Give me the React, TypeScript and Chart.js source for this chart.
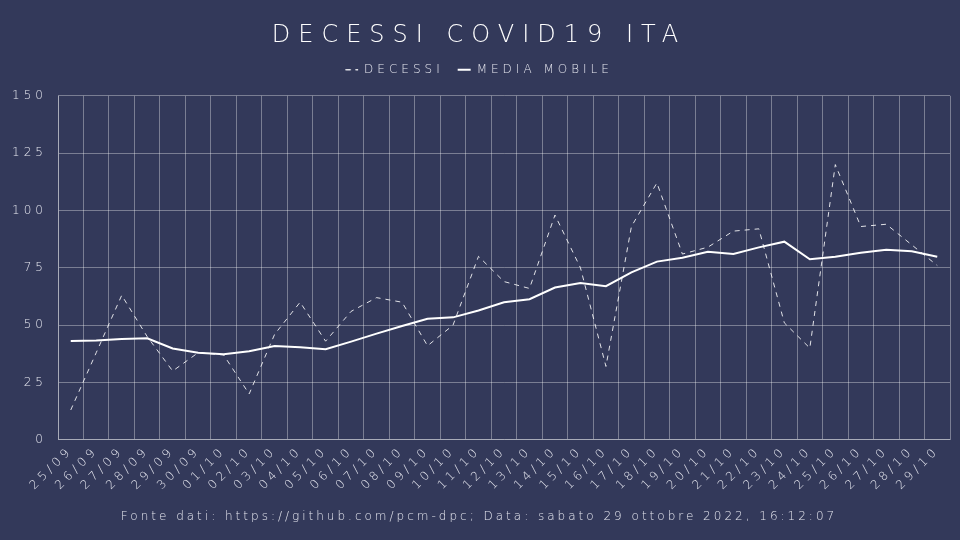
import React, { useEffect, useRef } from 'react';
import { Chart, registerables, Plugin } from 'chart.js';

Chart.register(...registerables);

// Dati
const giorni = [
  '25/09', '26/09', '27/09', '28/09', '29/09', '30/09', '01/10', '02/10', '03/10', '04/10',
  '05/10', '06/10', '07/10', '08/10', '09/10', '10/10', '11/10', '12/10', '13/10', '14/10',
  '15/10', '16/10', '17/10', '18/10', '19/10', '20/10', '21/10', '22/10', '23/10', '24/10',
  '25/10', '26/10', '27/10', '28/10', '29/10',
];

const decessi = [
  13, 38, 63, 45, 30, 38, 37, 20, 46, 60,
  43, 56, 62, 60, 41, 50, 80, 69, 66, 98,
  75, 32, 93, 112, 81, 84, 91, 92, 51, 40,
  120, 93, 94, 85, 76,
];

const mediaMobile = [
  43.1, 43.3, 44, 44.3, 39.8, 38, 37.3, 38.6, 40.9, 40.4,
  39.5, 42.8, 46.3, 49.6, 52.8, 53.4, 56.4, 60, 61.3, 66.4,
  68.4, 67, 73, 77.7, 79.4, 82, 81, 83.9, 86.4, 78.7,
  79.8, 81.6, 82.9, 82.2, 79.8,
];

const yTicks = [0, 25, 50, 75, 100, 125, 150];

const TITOLO = 'DECESSI COVID19 ITA';
const FONTE = 'Fonte dati: https://github.com/pcm-dpc; Data: sabato 29 ottobre 2022, 16:12:07';

const BG = '#33395a';
const TEXT = '#e4e5ee';
const GRID = 'rgba(255,255,255,0.35)';
const FONT = '"DejaVu Sans", sans-serif';

// imposta la spaziatura delle lettere per un singolo box (titolo, legenda...)
function spaced(box: any, spacing: string, extraHeight = 0) {
  if (!box || box.__spaced) return;
  box.__spaced = true;
  const ctx = box.ctx as any;
  const origDraw = box.draw.bind(box);
  box.draw = (...args: any[]) => {
    const prev = ctx.letterSpacing;
    ctx.letterSpacing = spacing;
    origDraw(...args);
    ctx.letterSpacing = prev;
  };
  if (box.fit) {
    const origFit = box.fit.bind(box);
    box.fit = (...args: any[]) => {
      const prev = ctx.letterSpacing;
      ctx.letterSpacing = spacing;
      origFit(...args);
      ctx.letterSpacing = prev;
      box.height += extraHeight;
    };
  }
}

const stylePlugin: Plugin = {
  id: 'stile',
  afterInit(chart: any) {
    spaced(chart.titleBlock, '8px');
    spaced(chart.legend, '4px', 10);
    const sub = chart.boxes.find((b: any) => b.options && b.options.text === FONTE);
    spaced(sub, '3px');
  },
  beforeUpdate(chart) {
    (chart.ctx as any).letterSpacing = '4px';
  },
  beforeDraw(chart) {
    const ctx = chart.ctx;
    (ctx as any).letterSpacing = '4px';
    ctx.save();
    ctx.fillStyle = BG;
    ctx.fillRect(0, 0, chart.width, chart.height);
    ctx.restore();
  },
};

const App: React.FC = () => {
  const canvasRef = useRef<HTMLCanvasElement>(null);

  useEffect(() => {
    document.body.style.margin = '0';
    if (!canvasRef.current) return;
    const chart = new Chart(canvasRef.current, {
      type: 'line',
      data: {
        labels: giorni,
        datasets: [
          {
            label: 'DECESSI',
            data: decessi,
            borderColor: 'rgba(255,255,255,0.85)',
            backgroundColor: 'transparent',
            borderWidth: 1,
            borderDash: [5, 5],
            pointRadius: 0,
            tension: 0,
          },
          {
            label: 'MEDIA MOBILE',
            data: mediaMobile,
            borderColor: '#ffffff',
            backgroundColor: 'transparent',
            borderWidth: 2,
            pointRadius: 0,
            tension: 0,
          },
        ],
      },
      options: {
        animation: false,
        responsive: false,
        layout: { padding: { left: 8, right: 10, top: 15, bottom: 16 } },
        plugins: {
          title: {
            display: true,
            text: TITOLO,
            color: '#ffffff',
            font: { family: FONT, size: 24, weight: 200 },
            padding: { top: 6, bottom: 0 },
          },
          legend: {
            labels: {
              color: TEXT,
              font: { family: FONT, size: 12, weight: 200 },
              boxWidth: 13,
              boxHeight: 0,
              padding: 14,
            },
          },
          subtitle: {
            display: true,
            position: 'bottom',
            text: FONTE,
            color: TEXT,
            font: { family: FONT, size: 12, weight: 200 },
            padding: { top: 13 },
          },
          tooltip: { enabled: false },
        },
        scales: {
          x: {
            offset: true,
            grid: { color: GRID, offset: true, drawTicks: false },
            border: { color: GRID },
            ticks: {
              color: TEXT,
              font: { family: FONT, size: 12, weight: 200 },
              maxRotation: 45,
              minRotation: 45,
              autoSkip: false,
              padding: 4,
            },
            afterFit: (scale) => {
              scale.paddingLeft = 0;
              scale.paddingRight = 0;
            },
          },
          y: {
            min: 0,
            max: 150,
            afterBuildTicks: (axis) => {
              axis.ticks = yTicks.map((v) => ({ value: v }));
            },
            afterFit: (scale) => {
              // larghezza fissa dell'asse, come nell'originale
              scale.width = 50;
            },
            grid: { color: GRID, drawTicks: false },
            border: { color: GRID },
            ticks: {
              color: TEXT,
              font: { family: FONT, size: 12, weight: 200 },
              padding: 11,
            },
          },
        },
      },
      plugins: [stylePlugin],
    });
    return () => chart.destroy();
  }, []);

  return (
    <div style={{ width: 960, height: 540, background: BG }}>
      <canvas ref={canvasRef} width={960} height={540} />
    </div>
  );
};

export default App;
